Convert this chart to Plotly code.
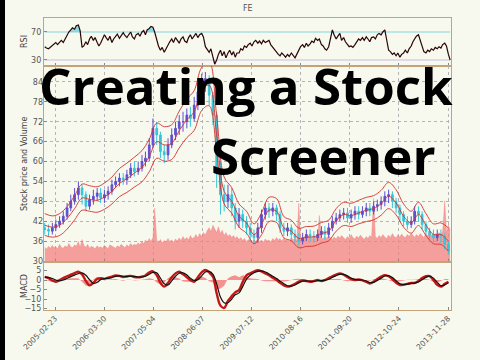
import pandas as pd
import plotly.graph_objects as go

# ---------------- data ----------------
months = pd.date_range("2004-12-01", periods=109, freq="MS")
half_months = pd.date_range("2004-12-01", periods=218, freq="SMS")

close = [39.5,
         39, 40, 41, 42, 43.5, 46, 48, 50, 52, 50, 46.5, 48.5,
         49.5, 50.5, 49, 50, 51, 53, 54, 55, 54.5, 56, 58, 57,
         58, 60, 61, 65, 70, 68, 63, 62, 65, 68, 70, 72,
         72, 74, 73, 77, 81, 84, 85, 80, 74, 58, 50, 48,
         50, 46, 42, 44, 42, 40, 38, 37, 40, 44, 46, 45,
         46, 44, 40, 39, 40, 38, 37, 36, 37, 38, 37.5, 37,
         38, 39, 38, 40, 42, 43, 44, 44.5, 43, 44, 45, 44,
         45, 46, 45, 46.5, 47, 48, 49.5, 50, 48, 46, 44, 42,
         41, 42, 45, 44, 41, 39, 38, 37, 38, 37.5, 35, 33]
high = [41.5,
        41, 41.5, 42.5, 43.5, 45, 47.5, 50, 52, 54, 53, 51, 50,
        51.5, 52, 52, 51.5, 52.5, 54.5, 55.5, 56.5, 56.5, 57.5, 59.5, 60,
        60, 62, 63, 67, 73, 72, 69, 65, 67, 70, 72, 74,
        75, 76, 76.5, 79.5, 83.5, 86.5, 87, 86, 81, 75, 60, 53,
        53, 52, 47.5, 46, 45.5, 43.5, 41.5, 39.5, 41.5, 45.5, 47.5, 47.5,
        47.5, 47, 45, 41.5, 41.5, 41, 39.5, 38.5, 38.5, 39.5, 39.5, 39,
        39.5, 40.5, 40.5, 41.5, 43.5, 44.5, 45.5, 46, 46, 45.5, 46.5, 46.5,
        46.5, 47.5, 47.5, 48, 48.5, 49.5, 51, 51.5, 51, 49, 47, 45,
        43.5, 43.5, 46.5, 46.5, 45, 42, 40, 39.5, 39.5, 39.5, 38.5, 36]
low = [38,
       37.5, 38, 39, 40, 41, 42.5, 45, 47, 48.5, 47, 45, 45.5,
       47, 48, 47.5, 47.5, 48.5, 50, 52, 52.5, 53, 53, 55, 55.5,
       56, 57, 58.5, 60, 64, 65, 61, 59.5, 60.5, 64, 66.5, 68,
       69, 70, 70.5, 72, 75.5, 79, 81, 77, 71, 52, 44, 45,
       46, 43.5, 39.5, 40, 40, 38, 36, 35, 35.5, 38.5, 42.5, 43,
       43.5, 42, 38.5, 37.5, 37.5, 36.5, 35.5, 34.5, 35, 36, 36, 35.5,
       36, 37, 36.5, 37, 39, 41, 42, 42.5, 41.5, 41.5, 42.5, 42.5,
       43, 43.5, 43.5, 44, 45, 45.5, 46.5, 47.5, 46, 44.5, 42, 40.5,
       39.5, 40, 41, 42, 39.5, 37.5, 36.5, 35.5, 36, 35.5, 33.5, 32]
first_open = 40.0

band_mid = [40.8, 40.2, 40.8, 42.8, 45.8, 49, 48.6, 48.3, 49.3, 51,
            53.4, 54.8, 56.5, 58.3, 61.5, 66, 65, 65.5, 69.3, 72.6,
            75, 81.5, 83, 68, 51, 48, 43.5, 41.5, 38, 41,
            45.3, 45, 40, 39, 36.8, 37.2, 37.3, 38.3, 39, 42.2,
            44, 43.7, 44.5, 45.3, 45.8, 47.3, 49.5, 47.5, 43.5, 41.5,
            44, 40.8, 38, 38, 36]
band_up = [44.3, 43.6, 44.3, 46.4, 49.7, 53.2, 52.7, 52.4, 53.5, 55.3,
           57.9, 59.5, 61.3, 63.3, 66.7, 71.6, 70.5, 71.1, 75.2, 78.8,
           81.4, 88.4, 90, 73.8, 55.3, 52.1, 47.2, 45, 41.2, 44.5,
           49.2, 48.8, 43.4, 42.3, 39.9, 40.4, 40.5, 41.6, 42.3, 45.8,
           47.7, 47.4, 48.3, 49.2, 49.7, 51.3, 53.7, 51.5, 47.2, 45,
           47.7, 44.3, 41.2, 41.5, 40]
band_low = [37.7, 37.2, 37.7, 39.6, 42.4, 45.3, 45, 44.7, 45.6, 47.2,
            49.4, 50.7, 52.3, 53.9, 56.9, 61, 60.1, 60.6, 64.1, 67.2,
            69.4, 75.4, 76.8, 62.9, 47.2, 44.4, 40.2, 38.4, 35.2, 37.9,
            41.9, 41.6, 37, 36.1, 34, 34.4, 34.5, 35.4, 36.1, 39,
            40.7, 40.4, 41.2, 41.9, 42.4, 43.8, 45.8, 43.9, 40.2, 38.4,
            40.7, 37.7, 35.2, 35, 33]

volume_m = [3.0, 2.6, 3.2, 2.8, 3.4, 2.9, 3.1, 2.7, 3.6, 3.0,
            2.8, 3.3, 3.0, 3.8, 3.1, 2.9, 3.5, 3.2, 4.2, 3.0,
            4.6, 3.4, 3.0, 3.6, 2.8, 3.2, 3.0, 2.7, 3.3, 2.9,
            3.1, 2.8, 3.4, 3.0, 2.7, 3.5, 3.2, 3.0, 2.8, 3.3,
            3.0, 3.6, 3.2, 2.9, 3.5, 3.1, 3.8, 3.3, 3.6, 3.4,
            3.9, 3.5, 4.2, 3.7, 4.5, 4.0, 4.8, 4.2, 5.0, 11.0,
            4.5, 4.0, 4.6, 3.9, 4.4, 4.1, 4.8, 4.2, 4.5, 4.0,
            4.7, 4.3, 4.9, 4.4, 5.2, 4.6, 5.0, 4.5, 5.4, 4.8,
            5.0, 5.6, 4.9, 5.8, 5.2, 6.0, 5.5, 6.4, 7.0, 6.2,
            7.5, 6.8, 6.0, 7.2, 5.8, 6.5, 5.4, 6.0, 5.2, 5.6,
            5.0, 5.4, 4.8, 5.2, 4.6, 5.0, 4.4, 4.8, 4.2, 4.6,
            4.4, 4.0, 4.6, 4.2, 4.8, 4.1, 4.5, 4.0, 4.7, 4.3,
            4.5, 4.1, 4.8, 4.4, 5.0, 4.5, 4.8, 4.3, 4.9, 4.4,
            4.6, 4.2, 5.0, 4.5, 4.8, 4.3, 12.0, 5.0, 4.6, 5.2,
            4.8, 5.4, 4.9, 5.0, 4.6, 5.2, 4.8, 9.5, 5.0, 4.7,
            5.2, 4.8, 5.4, 5.0, 4.6, 5.1, 4.7, 5.3, 4.9, 5.4,
            5.0, 4.6, 5.2, 4.8, 5.6, 5.0, 4.7, 5.3, 4.9, 5.5,
            5.0, 4.6, 5.2, 4.8, 5.4, 5.0, 13.0, 5.2, 4.8, 5.4,
            5.0, 5.6, 5.1, 4.8, 5.5, 5.0, 5.8, 5.2, 4.9, 5.5,
            5.1, 5.7, 5.2, 5.0, 5.6, 5.2, 5.9, 5.3, 5.0, 5.6,
            5.2, 5.8, 5.4, 5.0, 5.7, 5.3, 6.0, 5.5, 5.2, 5.8,
            5.4, 6.0, 5.5, 6.2, 12.5, 6.0, 7.5, 6.5]

rsi = [49, 47, 46, 48, 50, 53, 55, 52, 56, 58,
       55, 60, 64, 70, 73, 76, 74, 79, 80, 72,
       48, 50, 56, 52, 60, 64, 58, 62, 55, 50,
       54, 60, 66, 62, 58, 64, 55, 60, 63, 67,
       61, 64, 69, 65, 62, 66, 70, 63, 60, 66,
       68, 64, 70, 72, 66, 73, 75, 78, 77, 70,
       58, 50, 44, 48, 41, 46, 50, 56, 60, 55,
       62, 58, 54, 60, 63, 57, 55, 62, 66, 60,
       64, 68, 62, 66, 68, 63, 49, 45, 41, 46,
       35, 24, 30, 38, 44, 36, 42, 33, 40, 44,
       37, 42, 34, 40, 40, 46, 44, 50, 48, 52,
       54, 50, 56, 58, 54, 57, 53, 58, 55, 57,
       58, 52, 48, 44, 40, 38, 36, 40, 37, 34,
       38, 35, 40, 36, 33, 38, 44, 49, 52, 48,
       54, 50, 53, 57, 55, 61, 58, 60, 52, 50,
       46, 44, 49, 60, 73, 66, 60, 64, 68, 58,
       62, 56, 52, 49, 50, 48, 52, 56, 60, 58,
       62, 58, 63, 60, 56, 62, 63, 60, 66, 68,
       66, 70, 73, 60, 44, 42, 38, 40, 36, 40,
       34, 38, 40, 44, 40, 46, 50, 56, 60, 64,
       66, 58, 50, 42, 40, 44, 42, 46, 44, 48,
       46, 49, 47, 52, 54, 50, 38, 30]

macd = [1.7, 1.0, -0.3, -0.9, 0.0, 1.0, 2.0, 2.8, 3.6, 4.4,
        3.0, -0.5, -2.8, -1.5, 0.5, 1.0, 0.6, 1.2, 1.8, 2.4,
        2.2, 1.6, 2.0, 2.2, 1.6, 1.4, 1.8, 2.4, 4.0, 4.6,
        2.5, -1.5, -3.5, -1.5, 1.5, 3.5, 4.4, 3.0, 1.5, 0.0,
        -0.9, 1.5, 4.0, 5.3, 4.0, 1.7, -7.0, -13.5, -14.7, -11.0,
        -8.5, -6.5, -5.3, -1.0, 2.5, 3.5, 4.5, 5.2, 4.6, 3.5,
        2.5, 1.2, 0.0, -1.5, -2.8, -3.5, -3.0, -2.0, -0.8, -0.2,
        -0.5, -0.9, -0.6, 0.0, -0.5, 0.0, 1.0, 2.0, 2.8, 3.5,
        2.8, 1.5, 0.5, 0.0, 0.3, -0.2, -1.0, -1.8, -0.8, 0.5,
        1.8, 2.6, 2.0, 0.5, -1.5, -2.6, -2.4, -2.0, -1.6, -1.5,
        -0.5, 1.0, 2.0, 2.1, 0.0, -2.5, -3.5, -2.0, -0.9]
signal = [1.5, 1.4, 0.8, 0.0, -0.5, 0.0, 0.9, 1.8, 2.6, 3.4,
          3.8, 2.5, 0.2, -1.8, -1.2, 0.2, 0.8, 0.9, 1.3, 1.9,
          2.2, 2.0, 1.8, 2.0, 1.9, 1.6, 1.6, 2.0, 3.0, 4.0,
          3.8, 1.0, -2.0, -2.6, -0.5, 2.0, 3.6, 3.8, 2.6, 1.0,
          -0.2, 0.2, 2.2, 4.2, 4.6, 3.0, -2.0, -9.0, -12.0, -12.0,
          -10.0, -7.8, -6.8, -3.5, 0.5, 2.5, 3.8, 4.6, 4.8, 4.2,
          3.2, 2.0, 0.8, -0.6, -2.0, -3.0, -3.2, -2.6, -1.5, -0.6,
          -0.4, -0.6, -0.7, -0.3, -0.3, -0.2, 0.4, 1.4, 2.3, 3.0,
          3.0, 2.2, 1.0, 0.3, 0.1, 0.0, -0.5, -1.4, -1.2, -0.2,
          1.0, 2.1, 2.3, 1.3, -0.4, -2.0, -2.5, -2.2, -1.8, -1.6,
          -1.0, 0.2, 1.4, 2.0, 1.0, -1.2, -3.0, -2.6, -1.5]
macd_hist = [0.2, -0.4, -1.1, -0.9, 0.5, 1.0, 1.1, 1.0, 1.0, 1.0,
             -0.8, -3.0, -3.0, 0.3, 1.7, 0.8, -0.2, 0.3, 0.5, 0.5,
             0.0, -0.4, 0.2, 0.2, -0.3, -0.2, 0.2, 0.4, 1.0, 0.6,
             -1.3, -2.5, -1.5, 1.1, 2.0, 1.5, 0.8, -0.8, -1.1, -1.0,
             -0.7, 1.3, 1.8, 1.1, -0.6, -1.3, -5.0, -4.5, -3.0, 1.0,
             2.0, 2.5, 1.5, 2.5, 2.0, 1.0, 0.7, 0.6, -0.2, -0.7,
             -0.7, -0.8, -0.8, -0.9, -0.8, -0.5, 0.2, 0.6, 0.7, 0.4,
             -0.1, -0.3, 0.1, 0.3, -0.2, 0.2, 0.6, 0.6, 0.5, 0.5,
             -0.2, -0.7, -0.5, -0.3, 0.2, -0.2, -0.5, -0.4, 0.4, 0.7,
             0.8, 0.5, -0.3, -0.8, -1.1, -0.6, 0.1, 0.2, 0.2, 0.1,
             0.5, 0.8, 0.6, 0.1, -1.0, -1.3, -0.5, 0.6, 0.6]

tick_labels = ["2005-02-23", "2006-03-30", "2007-05-04", "2008-06-07",
               "2009-07-12", "2010-08-16", "2011-09-20", "2012-10-24",
               "2013-11-28"]
price_ticks = [30, 36, 42, 48, 54, 60, 66, 72, 78, 84]
rsi_ticks = [30, 70]
macd_ticks = [-15, -10, -5, 0, 5]
title_text = "FE"
headline_1 = "Creating a Stock"
headline_2 = "Screener"

# ---------------- styling ----------------
W, H = 480, 360
ML, MR, MT, MB = 44, 29, 18, 50
PW, PH = W - ML - MR, H - MT - MB
BG = "#f7f9ee"
FRAME = "#c4a27a"
GRID = "#b4b4b4"
TXT = "#555555"
FONT = "DejaVu Sans"
x_range = ["2004-11-25", "2013-12-22"]

def py(pixel_y):
    return 1 - (pixel_y - MT) / PH

def px(pixel_x):
    return (pixel_x - ML) / PW

dom_rsi = [py(66), 1]
dom_price = [py(262), py(66)]
dom_macd = [0, py(262)]

opens = [first_open] + close[:-1]
band_dates = months[::2]

fig = go.Figure()

# RSI panel
fig.add_trace(go.Scatter(x=half_months, y=[70] * len(rsi), mode="lines",
                         line=dict(color="#86d3dc", width=1.2), xaxis="x", yaxis="y",
                         hoverinfo="skip"))
fig.add_trace(go.Scatter(x=half_months, y=[max(v, 70) for v in rsi], mode="lines",
                         line=dict(width=0), fill="tonexty", fillcolor="#8fd9e2",
                         xaxis="x", yaxis="y", hoverinfo="skip"))
fig.add_trace(go.Scatter(x=half_months, y=[30] * len(rsi), mode="lines",
                         line=dict(color="#c9b9e6", width=1.2), xaxis="x", yaxis="y",
                         hoverinfo="skip"))
fig.add_trace(go.Scatter(x=half_months, y=[min(v, 30) for v in rsi], mode="lines",
                         line=dict(width=0), fill="tonexty", fillcolor="#c9b9e6",
                         xaxis="x", yaxis="y", hoverinfo="skip"))
fig.add_trace(go.Scatter(x=half_months, y=rsi, mode="lines",
                         line=dict(color="#2a0505", width=1.2), xaxis="x", yaxis="y"))

# Volume (base axis of price panel so it sits behind the price)
fig.add_trace(go.Scatter(x=half_months, y=volume_m, mode="lines",
                         line=dict(color="rgba(240,110,110,0.6)", width=0.5),
                         fill="tozeroy", fillcolor="rgba(244,128,128,0.75)",
                         xaxis="x2", yaxis="y2"))

# Price candles + bands
fig.add_trace(go.Candlestick(x=months, open=opens, high=high, low=low, close=close,
                             xaxis="x2", yaxis="y4",
                             increasing=dict(line=dict(color="#5d4fd2", width=1),
                                             fillcolor="#5d4fd2"),
                             decreasing=dict(line=dict(color="#33c6da", width=1),
                                             fillcolor="#33c6da"),
                             whiskerwidth=0))
for band in (band_up, band_mid, band_low):
    fig.add_trace(go.Scatter(x=band_dates, y=band, mode="lines",
                             line=dict(color="#d23030", width=0.9, shape="spline"),
                             xaxis="x2", yaxis="y4"))

# MACD panel
fig.add_trace(go.Scatter(x=months, y=macd_hist, mode="lines", line=dict(width=0),
                         fill="tozeroy", fillcolor="rgba(244,110,110,0.75)",
                         xaxis="x3", yaxis="y3"))
fig.add_trace(go.Scatter(x=months, y=macd, mode="lines",
                         line=dict(color="#c01818", width=2.4, shape="spline"),
                         xaxis="x3", yaxis="y3"))
fig.add_trace(go.Scatter(x=months, y=signal, mode="lines",
                         line=dict(color="#111111", width=1.2, shape="spline"),
                         xaxis="x3", yaxis="y3"))

axis_common = dict(showline=True, linecolor=FRAME, linewidth=1.2, mirror=True,
                   ticks="inside", ticklen=3, tickcolor="#888888", automargin=False,
                   tickfont=dict(family=FONT, size=8, color=TXT), zeroline=False)
x_common = dict(axis_common, type="date", range=x_range, tickvals=tick_labels,
                ticktext=tick_labels)

fig.update_layout(
    width=W, height=H,
    margin=dict(l=ML, r=MR, t=MT, b=MB, autoexpand=False),
    paper_bgcolor=BG, plot_bgcolor=BG,
    showlegend=False,
    xaxis=dict(x_common, anchor="y", domain=[0, 1], showticklabels=False,
               showgrid=False),
    xaxis2=dict(x_common, anchor="y2", domain=[0, 1], showticklabels=False,
                showgrid=True, gridcolor=GRID, griddash="dot", gridwidth=0.8,
                rangeslider=dict(visible=False), matches="x"),
    xaxis3=dict(x_common, anchor="y3", domain=[0, 1], showticklabels=True,
                tickangle=-45, showgrid=False, matches="x",
                tickfont=dict(family=FONT, size=7.6, color=TXT)),
    yaxis=dict(axis_common, domain=dom_rsi, range=[21.4, 90], tickvals=rsi_ticks,
               showgrid=False, anchor="x"),
    yaxis2=dict(axis_common, domain=dom_price, range=[0, 40], showticklabels=False,
                ticks="", showgrid=False, anchor="x2"),
    yaxis4=dict(axis_common, overlaying="y2", range=[29.7, 88.8], tickvals=price_ticks,
                showgrid=True, gridcolor=GRID, griddash="dot", gridwidth=0.8,
                anchor="x2", side="left", showline=False),
    yaxis3=dict(axis_common, domain=dom_macd, range=[-15.8, 9.5], tickvals=macd_ticks,
                showgrid=False, anchor="x3"),
)

ann = []
ann.append(dict(text=title_text, x=0.5, y=py(8), xref="paper", yref="paper",
                xanchor="center", yanchor="middle", showarrow=False,
                font=dict(family=FONT, size=8, color=TXT)))
for label, ycen in (("RSI", 42), ("Stock price and Volume", 164), ("MACD", 286)):
    ann.append(dict(text=label, x=px(24), y=py(ycen), xref="paper", yref="paper",
                    xanchor="center", yanchor="middle", showarrow=False, textangle=-90,
                    font=dict(family=FONT, size=8, color="#444444")))
ann.append(dict(text="<b>" + headline_1 + "</b>", x=px(246), y=py(85), xref="paper",
                yref="paper", xanchor="center", yanchor="middle", showarrow=False,
                font=dict(family="Open Sans", size=51, color="#000000")))
ann.append(dict(text="<b>" + headline_2 + "</b>", x=px(323), y=py(155), xref="paper",
                yref="paper", xanchor="center", yanchor="middle", showarrow=False,
                font=dict(family="Open Sans", size=51, color="#000000")))
fig.update_layout(annotations=ann)

fig.add_shape(type="rect", xref="paper", yref="paper",
              x0=px(0), x1=px(5), y0=py(H), y1=py(0),
              fillcolor="#000000", line=dict(width=0), layer="above")

fig.write_html("out.html",
               config={"displayModeBar": False},
               post_script="document.body.style.margin='0px';"
                           "document.body.style.overflow='hidden';")
